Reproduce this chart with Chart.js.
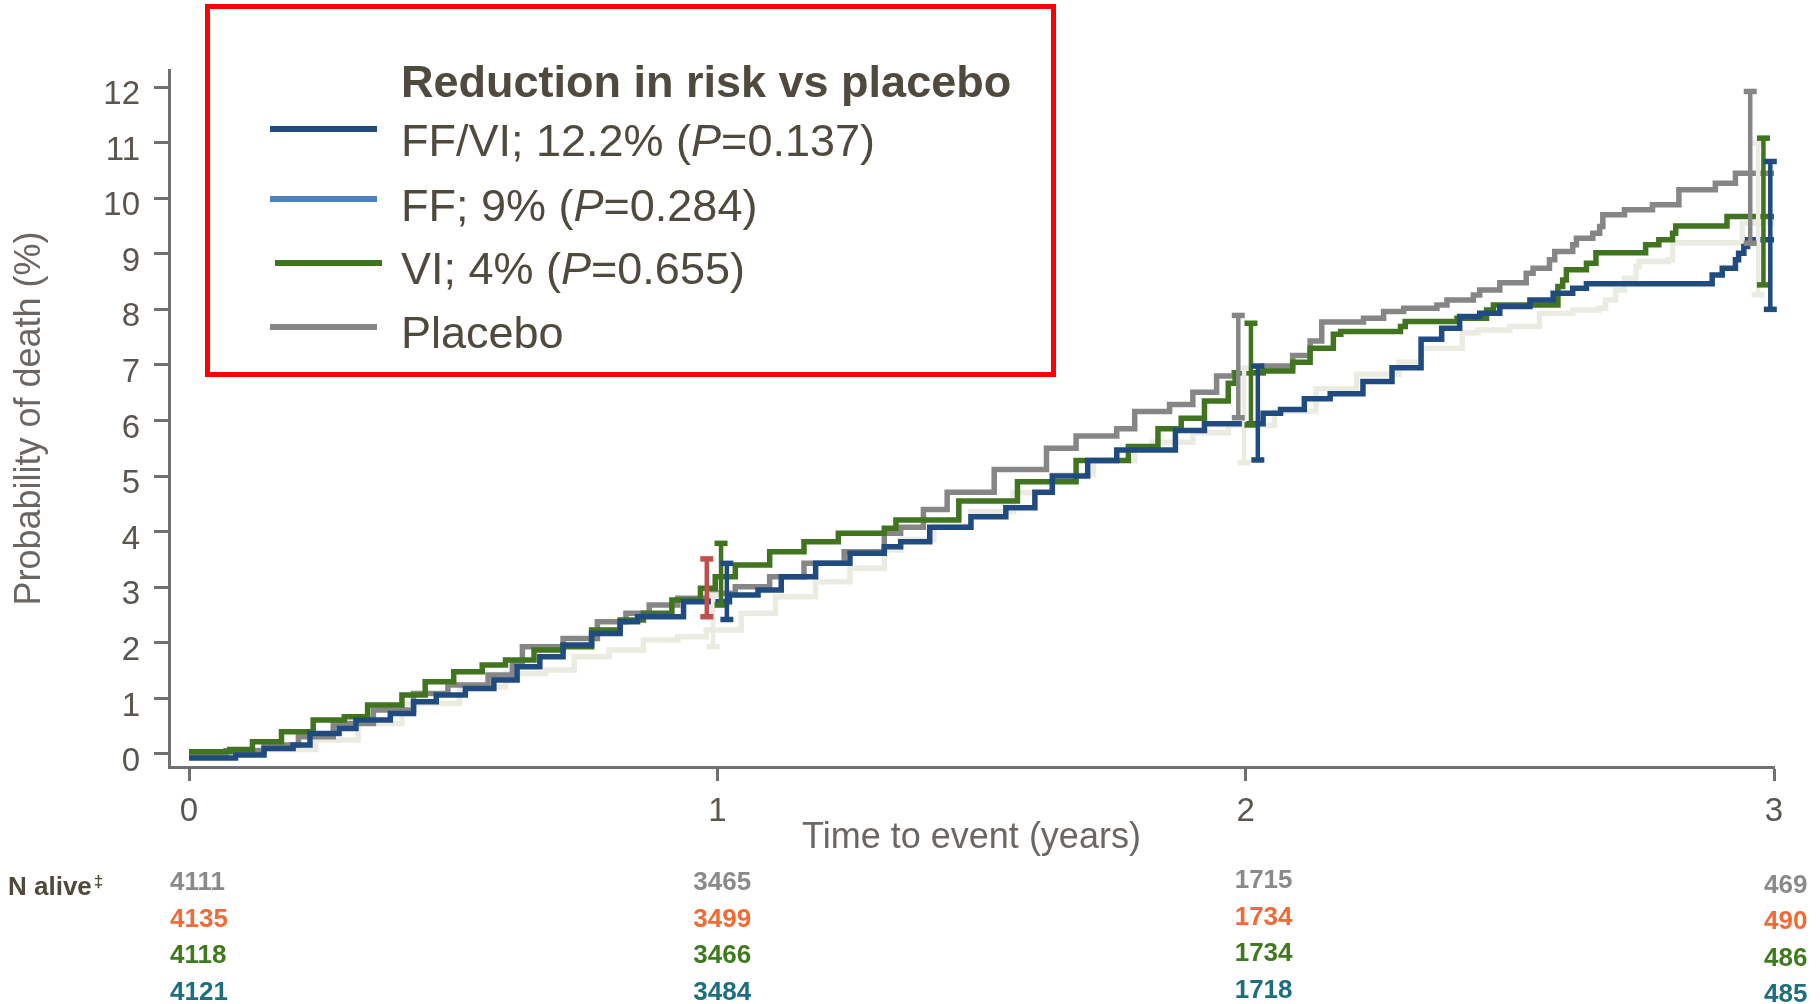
<!DOCTYPE html>
<html>
<head>
<meta charset="utf-8">
<title>Probability of death</title>
<script src="https://cdn.jsdelivr.net/npm/chart.js@4.4.1/dist/chart.umd.min.js"></script>
<style>
  html, body { margin: 0; padding: 0; background: #fff; }
  #chart { display: block; }
</style>
</head>
<body>
<canvas id="chart" width="1820" height="1004"></canvas>
<script>
// KM curves: time (years) and cumulative probability of death (%)
const placeboT = [0, 0.07, 0.142, 0.207, 0.273, 0.349, 0.425, 0.49, 0.566, 0.612, 0.631, 0.708, 0.773, 0.827, 0.871, 0.925, 0.99, 1.034, 1.099, 1.164, 1.24, 1.316, 1.347, 1.39, 1.435, 1.524, 1.623, 1.679, 1.756, 1.79, 1.856, 1.9, 1.945, 1.978, 2.033, 2.089, 2.122, 2.144, 2.223, 2.261, 2.299, 2.362, 2.381, 2.431, 2.443, 2.481, 2.531, 2.544, 2.575, 2.585, 2.619, 2.626, 2.657, 2.67, 2.676, 2.717, 2.77, 2.82, 2.889, 2.927, 3.0];
const placeboP = [0, 0.06, 0.16, 0.31, 0.55, 0.79, 1.09, 1.24, 1.42, 1.63, 1.93, 2.08, 2.38, 2.53, 2.68, 2.8, 2.89, 3.01, 3.19, 3.43, 3.64, 3.97, 4.08, 4.4, 4.71, 5.12, 5.5, 5.72, 5.85, 6.16, 6.29, 6.51, 6.8, 6.86, 6.98, 7.17, 7.43, 7.77, 7.84, 7.96, 8.02, 8.08, 8.17, 8.26, 8.35, 8.48, 8.65, 8.74, 8.89, 9.04, 9.16, 9.28, 9.37, 9.49, 9.7, 9.79, 9.88, 10.15, 10.27, 10.45, 10.45];

const ffT = [0, 0.1, 0.24, 0.32, 0.403, 0.512, 0.599, 0.675, 0.729, 0.795, 0.86, 0.925, 0.979, 1.045, 1.11, 1.186, 1.251, 1.316, 1.347, 1.41, 1.48, 1.56, 1.634, 1.712, 1.79, 1.823, 1.9, 1.967, 2.055, 2.133, 2.21, 2.29, 2.332, 2.41, 2.44, 2.5, 2.556, 2.619, 2.669, 2.681, 2.7, 2.717, 2.739, 2.745, 2.8, 2.808, 2.94, 3.0];
const ffP = [0, 0.08, 0.25, 0.55, 0.91, 1.21, 1.45, 1.51, 1.75, 1.87, 2.05, 2.11, 2.23, 2.53, 2.83, 3.1, 3.34, 3.67, 3.86, 4.1, 4.36, 4.7, 5.03, 5.28, 5.53, 5.61, 5.78, 5.91, 6.16, 6.57, 6.83, 7.05, 7.3, 7.58, 7.63, 7.69, 7.93, 7.99, 8.02, 8.17, 8.35, 8.56, 8.77, 8.86, 8.89, 9.2, 9.55, 9.55];

const viT = [0, 0.077, 0.12, 0.175, 0.235, 0.294, 0.338, 0.403, 0.447, 0.501, 0.555, 0.599, 0.653, 0.708, 0.762, 0.816, 0.86, 0.914, 0.968, 0.996, 1.034, 1.099, 1.164, 1.229, 1.316, 1.338, 1.457, 1.568, 1.679, 1.778, 1.834, 1.878, 1.922, 1.967, 1.98, 2.033, 2.089, 2.122, 2.166, 2.18, 2.293, 2.302, 2.4, 2.456, 2.469, 2.591, 2.6, 2.607, 2.645, 2.663, 2.757, 2.782, 2.808, 2.814, 2.911, 3.0];
const viP = [0.04, 0.08, 0.22, 0.4, 0.61, 0.67, 0.88, 1.06, 1.3, 1.48, 1.6, 1.69, 1.87, 1.93, 2.23, 2.41, 2.53, 2.77, 2.98, 3.19, 3.4, 3.64, 3.82, 3.97, 4.06, 4.21, 4.55, 4.9, 5.28, 5.53, 5.85, 6.04, 6.35, 6.67, 6.86, 6.89, 7.05, 7.3, 7.55, 7.6, 7.69, 7.78, 7.84, 7.99, 8.08, 8.41, 8.53, 8.71, 8.83, 9.02, 9.16, 9.25, 9.37, 9.5, 9.67, 9.67];

const ffviT = [0, 0.088, 0.142, 0.197, 0.229, 0.284, 0.316, 0.381, 0.425, 0.468, 0.523, 0.577, 0.621, 0.664, 0.708, 0.762, 0.816, 0.849, 0.936, 1.023, 1.077, 1.121, 1.186, 1.251, 1.316, 1.347, 1.402, 1.48, 1.546, 1.601, 1.634, 1.701, 1.756, 1.867, 1.922, 2.033, 2.066, 2.111, 2.16, 2.222, 2.277, 2.332, 2.371, 2.405, 2.443, 2.481, 2.538, 2.582, 2.619, 2.645, 2.883, 2.902, 2.927, 2.933, 2.943, 2.95, 3.0];
const ffviP = [-0.07, -0.02, 0.1, 0.16, 0.37, 0.46, 0.61, 0.73, 0.94, 1.06, 1.18, 1.33, 1.57, 1.75, 1.96, 2.17, 2.38, 2.47, 2.74, 2.86, 2.95, 3.19, 3.43, 3.61, 3.73, 3.82, 4.08, 4.27, 4.43, 4.71, 5.0, 5.28, 5.47, 5.82, 5.94, 6.13, 6.2, 6.39, 6.48, 6.7, 6.95, 7.46, 7.66, 7.87, 7.93, 8.05, 8.17, 8.29, 8.38, 8.46, 8.62, 8.74, 8.89, 9.01, 9.13, 9.25, 9.25];

// 95% CI bars drawn just beside years 1, 2, 3
const ciPlaceboT = [0.98, 1.986, 2.955];
const ciPlaceboLo = [2.47, 6.05, 9.19];
const ciPlaceboHi = [3.51, 7.89, 11.92];
const ciFfT = [0.992, 1.997, 2.97];
const ciFfLo = [1.93, 5.24, 8.26];
const ciFfHi = [2.86, 6.94, 10.99];
const ciViT = [1.007, 2.01, 2.98];
const ciViLo = [2.68, 5.92, 8.44];
const ciViHi = [3.79, 7.75, 11.08];
const ciFfviT = [1.018, 2.023, 2.993];
const ciFfviLo = [2.42, 5.29, 8.0];
const ciFfviHi = [3.43, 6.98, 10.66];

const xTicks = [0, 1, 2, 3];
const yTicks = [0, 1, 2, 3, 4, 5, 6, 7, 8, 9, 10, 11, 12];

// legend text
const legendTitle = 'Reduction in risk vs placebo';
const legendNames = ['FF/VI', 'FF', 'VI', 'Placebo'];
const legendReduction = ['12.2%', '9%', '4%', null];
const legendP = ['0.137', '0.284', '0.655', null];

// N alive at each year
const nYears = [0, 1, 2, 3];
const nPlacebo = [4111, 3465, 1715, 469];
const nFF = [4135, 3499, 1734, 490];
const nVI = [4118, 3466, 1734, 486];
const nFFVI = [4121, 3484, 1718, 485];

const NAVY = '#204b80', GREEN = '#40741f', GRAY = '#868686', BEIGE = '#ecebe1', RED = '#c0504d';
const FONT = '"Liberation Sans", Arial, sans-serif';

function steps(t, p) {
	return t.map((v, i) => ({x: v, y: p[i]}));
}

function ciBars(t, lo, hi) {
	let out = [];
	t.forEach((v, i) => {
		out.push({x: v, y: lo[i]}, {x: v, y: hi[i]}, {x: v, y: null});
	});
	return out;
}

function curve(data, color) {
	return {data: data, borderColor: color, borderWidth: 5.5, pointRadius: 0, stepped: true, fill: false};
}

function ci(data, color) {
	return {
		data: data, borderColor: color, borderWidth: 4.5, spanGaps: false, clip: false,
		pointStyle: 'line', pointRadius: 6.5, pointBorderWidth: 5.5, pointBorderColor: color, pointHoverRadius: 0
	};
}

// the placebo bar at year 1 is red in the original
const placeboCi = ci(ciBars(ciPlaceboT, ciPlaceboLo, ciPlaceboHi), GRAY);
placeboCi.segment = {borderColor: c => c.p0DataIndex < 2 ? RED : GRAY};
placeboCi.pointBorderColor = c => c.dataIndex < 2 ? RED : GRAY;

// legend box + N alive table
const extras = {
	id: 'extras',
	afterDraw(chart) {
		const ctx = chart.ctx;
		const xs = chart.scales.x;
		ctx.save();

		ctx.fillStyle = '#fff';
		ctx.fillRect(207, 6, 847, 369);
		ctx.strokeStyle = '#ff0000';
		ctx.lineWidth = 5;
		ctx.strokeRect(207.5, 6.5, 846, 368);

		ctx.fillStyle = '#4f4a3d';
		ctx.textBaseline = 'alphabetic';
		ctx.textAlign = 'left';
		ctx.font = 'bold 45px ' + FONT;
		ctx.fillText(legendTitle, 401, 97);

		const lineColors = [NAVY, '#4f81bd', GREEN, GRAY];
		const lineY = [129, 199, 263, 327];
		const lineX = [270, 270, 275, 270];
		const baseY = [156, 221, 284, 348];
		legendNames.forEach((name, i) => {
			ctx.strokeStyle = lineColors[i];
			ctx.lineWidth = 6;
			ctx.beginPath();
			ctx.moveTo(lineX[i], lineY[i]);
			ctx.lineTo(lineX[i] + 107, lineY[i]);
			ctx.stroke();

			let parts = [[name, false]];
			if (legendReduction[i]) {
				parts = [[name + '; ' + legendReduction[i] + ' (', false], ['P', true], ['=' + legendP[i] + ')', false]];
			}
			let x = 401;
			ctx.fillStyle = '#4f4a3d';
			parts.forEach(p => {
				ctx.font = (p[1] ? 'italic ' : '') + '45px ' + FONT;
				ctx.fillText(p[0], x, baseY[i]);
				x += ctx.measureText(p[0]).width;
			});
		});

		// N alive
		ctx.fillStyle = '#4f4a3d';
		ctx.font = 'bold 26px ' + FONT;
		ctx.fillText('N alive', 8, 895);
		let w = ctx.measureText('N alive').width;
		ctx.font = 'bold 17px ' + FONT;
		ctx.fillText('\u2021', 8 + w + 2, 887);

		const rows = [nPlacebo, nFF, nVI, nFFVI];
		const rowColors = ['#8a8a8a', '#f26a35', '#3f7a1e', '#1d6f7d'];
		const rowBase = [890, 926.5, 963, 999.5];
		const colShift = [-19, -24, -11, -10];
		const colDy = [0, 0, -2, 2.5];
		ctx.font = 'bold 26px ' + FONT;
		rows.forEach((vals, r) => {
			vals.forEach((v, c) => {
				ctx.fillStyle = rowColors[r];
				ctx.fillText(String(v), xs.getPixelForValue(nYears[c]) + colShift[c], rowBase[r] + colDy[c]);
			});
		});
		ctx.restore();
	}
};

const axisColor = '#707070';

new Chart(document.getElementById('chart'), {
	type: 'line',
	data: {
		datasets: [
			ci(ciBars(ciFfviT, ciFfviLo, ciFfviHi), NAVY),
			ci(ciBars(ciViT, ciViLo, ciViHi), GREEN),
			placeboCi,
			ci(ciBars(ciFfT, ciFfLo, ciFfHi), BEIGE),
			curve(steps(ffviT, ffviP), NAVY),
			curve(steps(viT, viP), GREEN),
			curve(steps(placeboT, placeboP), GRAY),
			curve(steps(ffT, ffP), BEIGE)
		]
	},
	options: {
		responsive: false,
		animation: false,
		devicePixelRatio: 1,
		layout: {padding: {left: 0, top: 70, right: 46, bottom: 144}},
		plugins: {legend: {display: false}, tooltip: {enabled: false}},
		events: [],
		scales: {
			x: {
				type: 'linear',
				min: -0.0379,
				max: 3,
				afterBuildTicks: axis => { axis.ticks = xTicks.map(v => ({value: v})); },
				afterFit: scale => { scale.height = 93; },
				border: {display: true, color: axisColor, width: 3},
				grid: {drawOnChartArea: false, drawTicks: true, tickLength: 14, tickWidth: 3, tickColor: axisColor},
				ticks: {font: {family: FONT, size: 33}, color: '#5b5550', padding: 11, maxRotation: 0},
				title: {display: true, text: 'Time to event (years)', font: {family: FONT, size: 36}, color: '#6b6661', padding: {top: 0, bottom: 0}}
			},
			y: {
				type: 'linear',
				min: -0.234,
				max: 12.306,
				afterBuildTicks: axis => { axis.ticks = yTicks.map(v => ({value: v})); },
				afterFit: scale => { scale.width = 169; },
				border: {display: true, color: axisColor, width: 3},
				grid: {drawOnChartArea: false, drawTicks: true, tickLength: 15, tickWidth: 3, tickColor: axisColor},
				ticks: {font: {family: FONT, size: 33}, color: '#5b5550', padding: 14, labelOffset: 8},
				title: {display: true, text: 'Probability of death (%)', font: {family: FONT, size: 36}, color: '#6b6661', padding: {top: 8, bottom: 0}}
			}
		}
	},
	plugins: [extras]
});
</script>
</body>
</html>
